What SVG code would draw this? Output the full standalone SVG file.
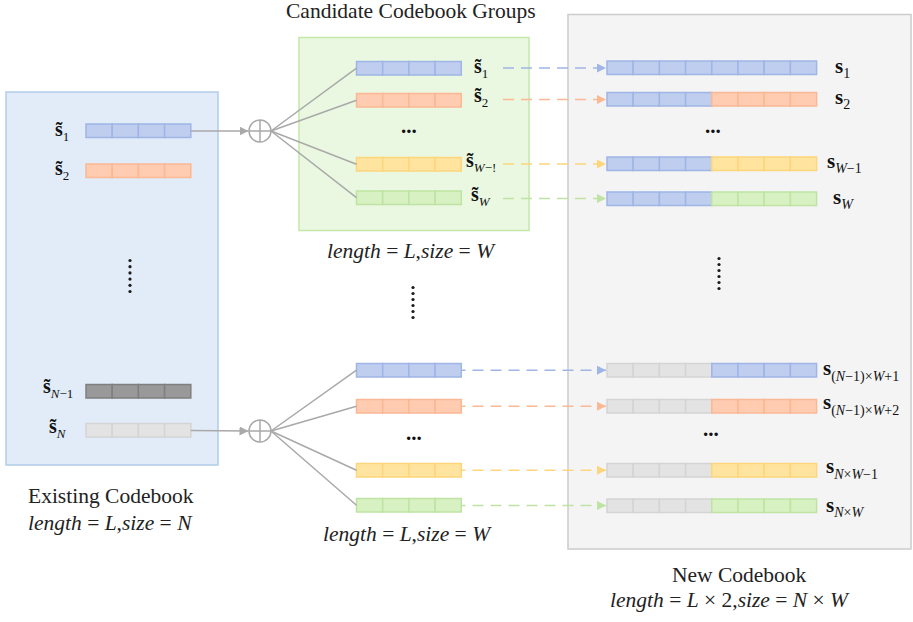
<svg xmlns="http://www.w3.org/2000/svg" xmlns:xlink="http://www.w3.org/1999/xlink" width="913" height="622" viewBox="0 0 913 622">
<style>
.b{fill:#bfcdef;stroke:#9fb5e5}
.o{fill:#ffcbb1;stroke:#fab894}
.y{fill:#ffe4a0;stroke:#fdd57c}
.g{fill:#d7f1c2;stroke:#bfe3a3}
.k{fill:#999999;stroke:#7f7f7f}
.e{fill:#e3e3e3;stroke:#d4d4d4}
use{stroke-width:1.5}
.lb{font-family:"Liberation Serif","Times New Roman",serif;font-weight:bold;font-size:20px;fill:#111}
.lr{font-size:21px}
.sb{font-weight:normal;font-size:13px}
.sr{font-weight:normal;font-size:14px}
.i{font-style:italic}
.cap{font-family:"Liberation Serif","Times New Roman",serif;font-size:21.5px;fill:#222}
.dots{font-family:"Liberation Serif","Times New Roman",serif;font-weight:bold;font-size:21px;fill:#111}
.vd{fill:#1a1a1a}
.gl{stroke:#a9a9a9;stroke-width:1.5;fill:none}
.dash{stroke-width:1.5;stroke-dasharray:11 7;fill:none}
</style>
<defs>
<g id="bar4">
<rect x="0" y="0" width="26.2" height="13.5"/>
<rect x="26.2" y="0" width="26.2" height="13.5"/>
<rect x="52.4" y="0" width="26.2" height="13.5"/>
<rect x="78.6" y="0" width="26.2" height="13.5"/>
</g>
<marker id="ag" markerUnits="userSpaceOnUse" markerWidth="10" markerHeight="10" refX="9" refY="4.5" orient="auto"><path d="M0,0 L9,4.5 L0,9 z" fill="#a9a9a9"/></marker>
<marker id="ab" markerUnits="userSpaceOnUse" markerWidth="10" markerHeight="10" refX="9" refY="4.5" orient="auto"><path d="M0,0 L9,4.5 L0,9 z" fill="#9fb5e5"/></marker>
<marker id="ao" markerUnits="userSpaceOnUse" markerWidth="10" markerHeight="10" refX="9" refY="4.5" orient="auto"><path d="M0,0 L9,4.5 L0,9 z" fill="#fab894"/></marker>
<marker id="ay" markerUnits="userSpaceOnUse" markerWidth="10" markerHeight="10" refX="9" refY="4.5" orient="auto"><path d="M0,0 L9,4.5 L0,9 z" fill="#fdd57c"/></marker>
<marker id="agr" markerUnits="userSpaceOnUse" markerWidth="10" markerHeight="10" refX="9" refY="4.5" orient="auto"><path d="M0,0 L9,4.5 L0,9 z" fill="#bfe3a3"/></marker>
</defs>
<rect width="913" height="622" fill="#ffffff"/>

<!-- Existing codebook -->
<g id="existing-codebook">
<rect x="6" y="92" width="212" height="373" fill="#e2ecf8" stroke="#b2cde9" stroke-width="1.5"/>
<use href="#bar4" x="86" y="124" class="b"/>
<use href="#bar4" x="86" y="164" class="o"/>
<use href="#bar4" x="86" y="384.5" class="k"/>
<use href="#bar4" x="86" y="423.5" class="e"/>
<text class="lb" x="55" y="136">s̃<tspan class="sb" dy="4.5">1</tspan></text>
<text class="lb" x="55" y="175">s̃<tspan class="sb" dy="4.5">2</tspan></text>
<text class="lb" x="43" y="393">s̃<tspan class="sb" dy="5"><tspan class="i">N</tspan>−1</tspan></text>
<text class="lb" x="49" y="433">s̃<tspan class="sb" dy="4.5"><tspan class="i">N</tspan></tspan></text>
<circle class="vd" cx="130" cy="260.5" r="1.6"/>
<circle class="vd" cx="130" cy="266.7" r="1.6"/>
<circle class="vd" cx="130" cy="272.9" r="1.6"/>
<circle class="vd" cx="130" cy="279.1" r="1.6"/>
<circle class="vd" cx="130" cy="285.3" r="1.6"/>
<circle class="vd" cx="130" cy="291.5" r="1.6"/>
<text class="cap" x="28" y="503">Existing Codebook</text>
<text class="cap" x="28" y="530"><tspan class="i">length</tspan> = <tspan class="i">L</tspan>,<tspan class="i">size</tspan> = <tspan class="i">N</tspan></text>
</g>

<!-- Combiners -->
<g id="combiner-top">
<circle class="gl" cx="260" cy="131" r="11"/>
<line class="gl" x1="249" y1="131" x2="271" y2="131"/>
<line class="gl" x1="260" y1="120" x2="260" y2="142"/>
</g>
<g id="combiner-bottom">
<circle class="gl" cx="260" cy="431" r="11"/>
<line class="gl" x1="249" y1="431" x2="271" y2="431"/>
<line class="gl" x1="260" y1="420" x2="260" y2="442"/>
</g>

<!-- Candidate codebook groups -->
<g id="candidate-group-1">
<text class="cap" x="286" y="18">Candidate Codebook Groups</text>
<rect x="299" y="37.5" width="230" height="193" fill="#ebf8e1" stroke="#c3e8a8" stroke-width="1.5"/>
<use href="#bar4" x="356.5" y="61.5" class="b"/>
<use href="#bar4" x="356.5" y="93.5" class="o"/>
<use href="#bar4" x="356.5" y="157.5" class="y"/>
<use href="#bar4" x="356.5" y="191" class="g"/>
<text class="lb" x="474" y="73">s̃<tspan class="sb" dy="4.5">1</tspan></text>
<text class="lb" x="474" y="102">s̃<tspan class="sb" dy="4.5">2</tspan></text>
<text class="lb" x="466" y="167">s̃<tspan class="sb" dy="4.5"><tspan class="i">W</tspan>−!</tspan></text>
<text class="lb" x="471" y="201">s̃<tspan class="sb" dy="4.5"><tspan class="i">W</tspan></tspan></text>
<text class="dots" x="401" y="133">...</text>
<text class="cap" x="327" y="258"><tspan class="i">length</tspan> = <tspan class="i">L</tspan>,<tspan class="i">size</tspan> = <tspan class="i">W</tspan></text>
</g>

<g id="group-ellipsis">
<circle class="vd" cx="413" cy="287.5" r="1.6"/>
<circle class="vd" cx="413" cy="293.5" r="1.6"/>
<circle class="vd" cx="413" cy="299.5" r="1.6"/>
<circle class="vd" cx="413" cy="305.5" r="1.6"/>
<circle class="vd" cx="413" cy="311.5" r="1.6"/>
<circle class="vd" cx="413" cy="317.5" r="1.6"/>
</g>

<g id="candidate-group-N">
<use href="#bar4" x="356.5" y="363.5" class="b"/>
<use href="#bar4" x="356.5" y="399.5" class="o"/>
<use href="#bar4" x="356.5" y="463.5" class="y"/>
<use href="#bar4" x="356.5" y="498.5" class="g"/>
<text class="dots" x="406" y="440">...</text>
<text class="cap" x="323" y="541"><tspan class="i">length</tspan> = <tspan class="i">L</tspan>,<tspan class="i">size</tspan> = <tspan class="i">W</tspan></text>
</g>

<!-- New codebook -->
<g id="new-codebook">
<rect x="568" y="14.5" width="343" height="534.5" fill="#f4f4f4" stroke="#cccccc" stroke-width="1.5"/>
<use href="#bar4" x="607" y="61" class="b"/>
<use href="#bar4" x="711.8" y="61" class="b"/>
<use href="#bar4" x="607" y="92.5" class="b"/>
<use href="#bar4" x="711.8" y="92.5" class="o"/>
<use href="#bar4" x="607" y="157" class="b"/>
<use href="#bar4" x="711.8" y="157" class="y"/>
<use href="#bar4" x="607" y="192" class="b"/>
<use href="#bar4" x="711.8" y="192" class="g"/>
<text class="lb lr" x="835" y="72.5">s<tspan class="sr" dy="5">1</tspan></text>
<text class="lb lr" x="835" y="103.5">s<tspan class="sr" dy="5">2</tspan></text>
<text class="lb lr" x="827" y="167.5">s<tspan class="sr" dy="5"><tspan class="i">W</tspan>−1</tspan></text>
<text class="lb lr" x="833" y="204">s<tspan class="sr" dy="4.5"><tspan class="i">W</tspan></tspan></text>
<text class="dots" x="705" y="133">...</text>
<circle class="vd" cx="719" cy="258.5" r="1.6"/>
<circle class="vd" cx="719" cy="264.5" r="1.6"/>
<circle class="vd" cx="719" cy="270.5" r="1.6"/>
<circle class="vd" cx="719" cy="276.5" r="1.6"/>
<circle class="vd" cx="719" cy="282.5" r="1.6"/>
<circle class="vd" cx="719" cy="288.5" r="1.6"/>
<use href="#bar4" x="607" y="363.5" class="e"/>
<use href="#bar4" x="711.8" y="363.5" class="b"/>
<use href="#bar4" x="607" y="399.5" class="e"/>
<use href="#bar4" x="711.8" y="399.5" class="o"/>
<use href="#bar4" x="607" y="463.5" class="e"/>
<use href="#bar4" x="711.8" y="463.5" class="y"/>
<use href="#bar4" x="607" y="499" class="e"/>
<use href="#bar4" x="711.8" y="499" class="g"/>
<text class="lb lr" x="823" y="375">s<tspan class="sr" dy="5.5">(<tspan class="i">N</tspan>−1)×<tspan class="i">W</tspan>+1</tspan></text>
<text class="lb lr" x="823" y="409">s<tspan class="sr" dy="5.5">(<tspan class="i">N</tspan>−1)×<tspan class="i">W</tspan>+2</tspan></text>
<text class="lb lr" x="826" y="473">s<tspan class="sr" dy="5.5"><tspan class="i">N</tspan>×<tspan class="i">W</tspan>−1</tspan></text>
<text class="lb lr" x="826" y="512">s<tspan class="sr" dy="5"><tspan class="i">N</tspan>×<tspan class="i">W</tspan></tspan></text>
<text class="dots" x="703" y="436">...</text>
<text class="cap" x="672" y="582">New Codebook</text>
<text class="cap" x="610" y="607"><tspan class="i">length</tspan> = <tspan class="i">L</tspan> × 2,<tspan class="i">size</tspan> = <tspan class="i">N</tspan> × <tspan class="i">W</tspan></text>
</g>

<!-- Connectors -->
<g id="connectors">
<line class="gl" x1="190.8" y1="131" x2="248.5" y2="131" marker-end="url(#ag)"/>
<line class="gl" x1="190.8" y1="430.5" x2="248.5" y2="431" marker-end="url(#ag)"/>
<line class="gl" x1="271" y1="131" x2="356.5" y2="68.2"/>
<line class="gl" x1="271" y1="131" x2="356.5" y2="100.2"/>
<line class="gl" x1="271" y1="131" x2="356.5" y2="164.2"/>
<line class="gl" x1="271" y1="131" x2="356.5" y2="197.7"/>
<line class="gl" x1="271" y1="431" x2="356.5" y2="370.2"/>
<line class="gl" x1="271" y1="431" x2="356.5" y2="406.2"/>
<line class="gl" x1="271" y1="431" x2="356.5" y2="470.2"/>
<line class="gl" x1="271" y1="431" x2="356.5" y2="505.2"/>
<line class="dash" stroke="#9fb5e5" x1="503" y1="68" x2="606" y2="68" marker-end="url(#ab)"/>
<line class="dash" stroke="#fab894" x1="503" y1="99.5" x2="606" y2="99.5" marker-end="url(#ao)"/>
<line class="dash" stroke="#fdd57c" x1="503" y1="164" x2="606" y2="164" marker-end="url(#ay)"/>
<line class="dash" stroke="#bfe3a3" x1="503" y1="198.5" x2="606" y2="198.5" marker-end="url(#agr)"/>
<line class="dash" stroke="#9fb5e5" x1="461.5" y1="370.2" x2="606" y2="370.2" marker-end="url(#ab)" stroke-dashoffset="7"/>
<line class="dash" stroke="#fab894" x1="461.5" y1="406.2" x2="606" y2="406.2" marker-end="url(#ao)" stroke-dashoffset="7"/>
<line class="dash" stroke="#fdd57c" x1="461.5" y1="470.2" x2="606" y2="470.2" marker-end="url(#ay)" stroke-dashoffset="7"/>
<line class="dash" stroke="#bfe3a3" x1="461.5" y1="505.5" x2="606" y2="505.5" marker-end="url(#agr)" stroke-dashoffset="7"/>
</g>
</svg>
